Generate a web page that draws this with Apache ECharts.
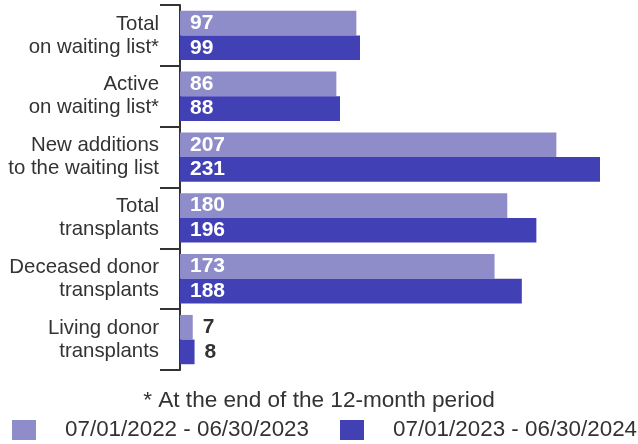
<!DOCTYPE html>
<html>
<head>
<meta charset="utf-8">
<script src="https://cdn.jsdelivr.net/npm/echarts@6/dist/echarts.min.js"></script>
<style>
  html, body { margin: 0; padding: 0; background: #fff; }
  #chart { width: 638px; height: 444px; }
</style>
</head>
<body>
<div id="chart"></div>
<script>
const categories = [
  "Total\non waiting list*",
  "Active\non waiting list*",
  "New additions\nto the waiting list",
  "Total\ntransplants",
  "Deceased donor\ntransplants",
  "Living donor\ntransplants"
];
const period1 = [97, 86, 207, 180, 173, 7];
const period2 = [99, 88, 231, 196, 188, 8];
const seriesNames = ["07/01/2022 - 06/30/2023", "07/01/2023 - 06/30/2024"];
const footnote = "* At the end of the 12-month period";

const lightColor = "#8f8dc9";
const darkColor = "#4240b5";
const textColor = "#333333";
const font = "'Liberation Sans'";

// small bars get their number outside, in dark text
function toData(values) {
  return values.map(function (v) {
    if (v < 20) {
      return {
        value: v,
        label: { position: "right", color: textColor, distance: 10 }
      };
    }
    return v;
  });
}

function barLabel() {
  return {
    show: true,
    position: "insideLeft",
    distance: 10,
    color: "#fff",
    fontWeight: "bold",
    fontSize: 21,
    fontFamily: font
  };
}

const myChart = echarts.init(document.getElementById("chart"));
const option = {
  animation: false,
  title: {
    text: footnote,
    left: "center",
    top: 389,
    padding: 0,
    textStyle: {
      fontFamily: font,
      fontSize: 22.6,
      fontWeight: "normal",
      color: textColor
    }
  },
  legend: {
    data: seriesNames,
    left: 12,
    top: 419,
    padding: 0,
    itemWidth: 24,
    itemHeight: 20,
    itemGap: 31,
    icon: "rect",
    textStyle: {
      fontFamily: font,
      fontSize: 22.4,
      color: textColor,
      padding: [0, 0, 0, 24]
    }
  },
  grid: {
    left: 180,
    top: 5,
    width: 420,
    height: 365
  },
  xAxis: {
    type: "value",
    min: 0,
    max: 231,
    show: false
  },
  yAxis: {
    type: "category",
    inverse: true,
    data: categories,
    axisLine: { show: true, lineStyle: { color: textColor, width: 2 } },
    axisTick: { show: true, length: 20, lineStyle: { color: textColor, width: 2 } },
    axisLabel: {
      margin: 21,
      fontFamily: font,
      fontSize: 20.4,
      lineHeight: 23,
      color: textColor
    }
  },
  series: [
    {
      name: seriesNames[0],
      type: "bar",
      data: toData(period1),
      barGap: "0%",
      barCategoryGap: "19%",
      itemStyle: { color: lightColor },
      label: barLabel()
    },
    {
      name: seriesNames[1],
      type: "bar",
      data: toData(period2),
      barGap: "0%",
      barCategoryGap: "19%",
      itemStyle: { color: darkColor },
      label: barLabel()
    }
  ]
};
myChart.setOption(option);
</script>
</body>
</html>
